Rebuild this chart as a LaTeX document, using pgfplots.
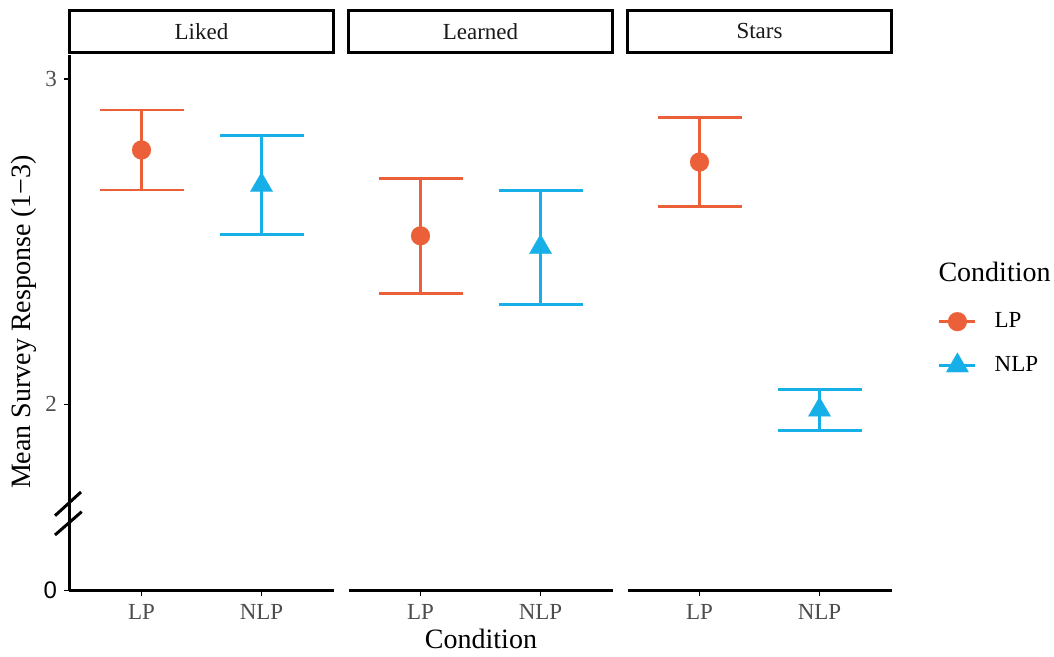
\documentclass[border=0pt]{standalone}
\usepackage{fontspec}
\setmainfont{Liberation Serif}
\newfontfamily\arialfont{Liberation Sans}
\usepackage{pgfplots}
\pgfplotsset{compat=1.18}
\definecolor{lporange}{RGB}{235,96,56}
\definecolor{nlpblue}{RGB}{22,175,231}
\definecolor{ticktext}{RGB}{77,77,77}

\pgfplotsset{
 panel/.style={
  scale only axis, width=264pt, height=536pt,
  xmin=0.4, xmax=2.6, ymin=1.427, ymax=3.075,
  xtick={1,2}, xticklabels={LP,NLP},
  axis x line*=bottom, axis y line*=left,
  axis line style={line width=2.5pt, black},
  major tick style={line width=1.5pt, black},
  major tick length=5pt, tick align=outside,
  tick label style={font=\fontsize{23}{26}\selectfont, text=ticktext},
  xticklabel style={yshift=-5pt},
  yticklabel style={xshift=-4pt},
  /pgf/number format/assume math mode=true,
  ytick={2,3},
  clip=false,
  title style={draw=black, line width=3pt, minimum width=264pt, minimum height=42pt, inner sep=0pt, anchor=south, at={(0.5,1)}, yshift=-5pt, font=\fontsize{23}{26}\selectfont, text=black!90},
  error bars/y dir=both, error bars/y explicit,
  error bars/error bar style={line width=2.5pt},
  error bars/error mark options={rotate=90, line width=2.8pt, mark size=42pt},
  legend image code/.code={\draw[mark repeat=2,mark phase=2,#1] plot coordinates {(0pt,0pt)(18pt,0pt)(36pt,0pt)};},
 },
 lpstyle/.style={lporange, mark=*, mark size=9.5pt, line width=2.5pt, mark options={line width=0.1pt}},
 nlpstyle/.style={nlpblue, mark=triangle*, mark size=13pt, line width=2.5pt, mark options={line width=0.1pt}},
}

\begin{document}
\begin{tikzpicture}[x=1pt,y=1pt]
\useasboundingbox (0pt,0pt) rectangle (1054pt,656pt);

% Panel 1: Liked
\begin{axis}[panel, at={(69.5pt,65.3pt)}, anchor=south west, title={Liked},
  extra y ticks={1.427}, extra y tick labels={0},
  extra y tick style={yticklabel style={font=\arialfont\fontsize{24}{26}\selectfont, text=black}}]
\addplot[lpstyle] coordinates {(1,2.782) +- (0,0.123)};
\addplot[nlpstyle] coordinates {(2,2.674) +- (0,0.153)};
\end{axis}

% Panel 2: Learned
\begin{axis}[panel, at={(348.5pt,65.3pt)}, anchor=south west, title={Learned}, hide y axis]
\addplot[lpstyle] coordinates {(1,2.518) +- (0,0.176)};
\addplot[nlpstyle] coordinates {(2,2.483) +- (0,0.175)};
\end{axis}

% Panel 3: Stars
\begin{axis}[panel, at={(627.5pt,65.3pt)}, anchor=south west, title={Stars}, hide y axis,
  legend style={at={(1.176,0.521)}, anchor=north west, draw=none, fill=none,
    font=\fontsize{23}{26}\selectfont, row sep=21pt, inner sep=0pt,
    nodes={inner sep=0pt, text height=16pt, text depth=4pt},
    /tikz/every odd column/.append style={column sep=18pt}},
  legend cell align=left]
\addplot[lpstyle] coordinates {(1,2.745) +- (0,0.137)};
\addlegendentry{LP}
\addplot[nlpstyle] coordinates {(2,1.983) +- (0,0.063)};
\addlegendentry{NLP}
\end{axis}

% axis break marks
\draw[line width=3pt, black] (55pt,140.3pt) -- (81pt,164pt);
\draw[line width=3pt, black] (55pt,121pt) -- (81.7pt,144.3pt);

% titles
\node[rotate=90, font=\fontsize{28}{30}\selectfont] at (24pt,334pt) {Mean Survey Response (1−3)};
\node[font=\fontsize{28}{30}\selectfont] at (481pt,17pt) {Condition};
\node[anchor=west, font=\fontsize{28}{30}\selectfont] at (935pt,384pt) {Condition};
\end{tikzpicture}
\end{document}
